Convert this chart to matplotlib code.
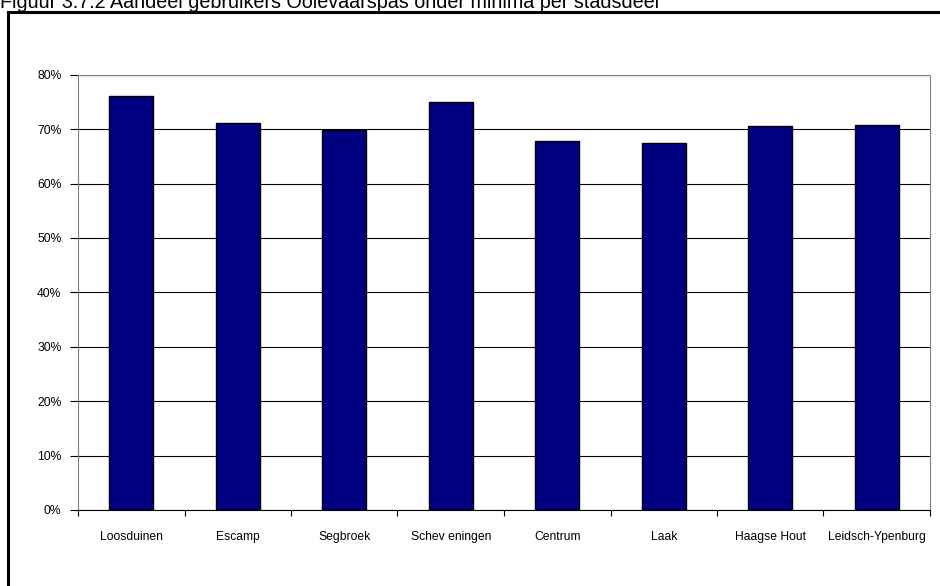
import matplotlib.pyplot as plt
from matplotlib.patches import Rectangle
from matplotlib.ticker import FuncFormatter

plt.rcParams['font.family'] = ['Liberation Sans', 'DejaVu Sans']

stadsdelen = ['Loosduinen', 'Escamp', 'Segbroek', 'Schev eningen', 'Centrum',
              'Laak', 'Haagse Hout', 'Leidsch-Ypenburg']
aandeel = [0.760, 0.711, 0.698, 0.750, 0.679, 0.674, 0.706, 0.708]
y_ticks = [0.0, 0.1, 0.2, 0.3, 0.4, 0.5, 0.6, 0.7, 0.8]

fig = plt.figure(figsize=(9.4, 5.86), dpi=100)

# outer frame (only top and left visible in the crop)
fig.patches.append(Rectangle((8 / 940, -0.1), 1.2, 1 - 11.5 / 586 + 0.1,
                             transform=fig.transFigure, fill=False,
                             edgecolor='black', linewidth=2.2))
fig.text(0.0, 1 - 8 / 586,
         'Figuur 3.7.2 Aandeel gebruikers Ooievaarspas onder minima per stadsdeel',
         fontsize=14.2, ha='left', va='baseline')

ax = fig.add_axes([78 / 940, 1 - 510 / 586, (930 - 78) / 940, (510 - 74.7) / 586])
x = list(range(len(stadsdelen)))
ax.bar(x, aandeel, width=0.41, color='#000080', edgecolor='black',
       linewidth=1, zorder=3)
ax.set_xlim(-0.5, len(stadsdelen) - 0.5)
ax.set_ylim(0, 0.8)
ax.set_yticks(y_ticks)
ax.yaxis.set_major_formatter(FuncFormatter(lambda v, p: f'{v:.0%}'))
ax.grid(axis='y', color='black', linewidth=0.8, zorder=0)

ax.set_xticks([i + 0.5 for i in x[:-1]] + [-0.5, len(stadsdelen) - 0.5])
ax.set_xticklabels([])
ax.set_xticks(x, minor=True)
ax.set_xticklabels(stadsdelen, minor=True, fontsize=8.7)
ax.tick_params(axis='x', which='minor', length=0, pad=15)
ax.tick_params(axis='x', which='major', length=4, width=0.8, direction='out')
ax.tick_params(axis='y', length=6, width=0.8, labelsize=8.7, pad=6)

for side in ['top', 'right', 'left']:
    ax.spines[side].set_color('#808080')
ax.spines['bottom'].set_color('black')

fig.savefig('out.png', dpi=100)
